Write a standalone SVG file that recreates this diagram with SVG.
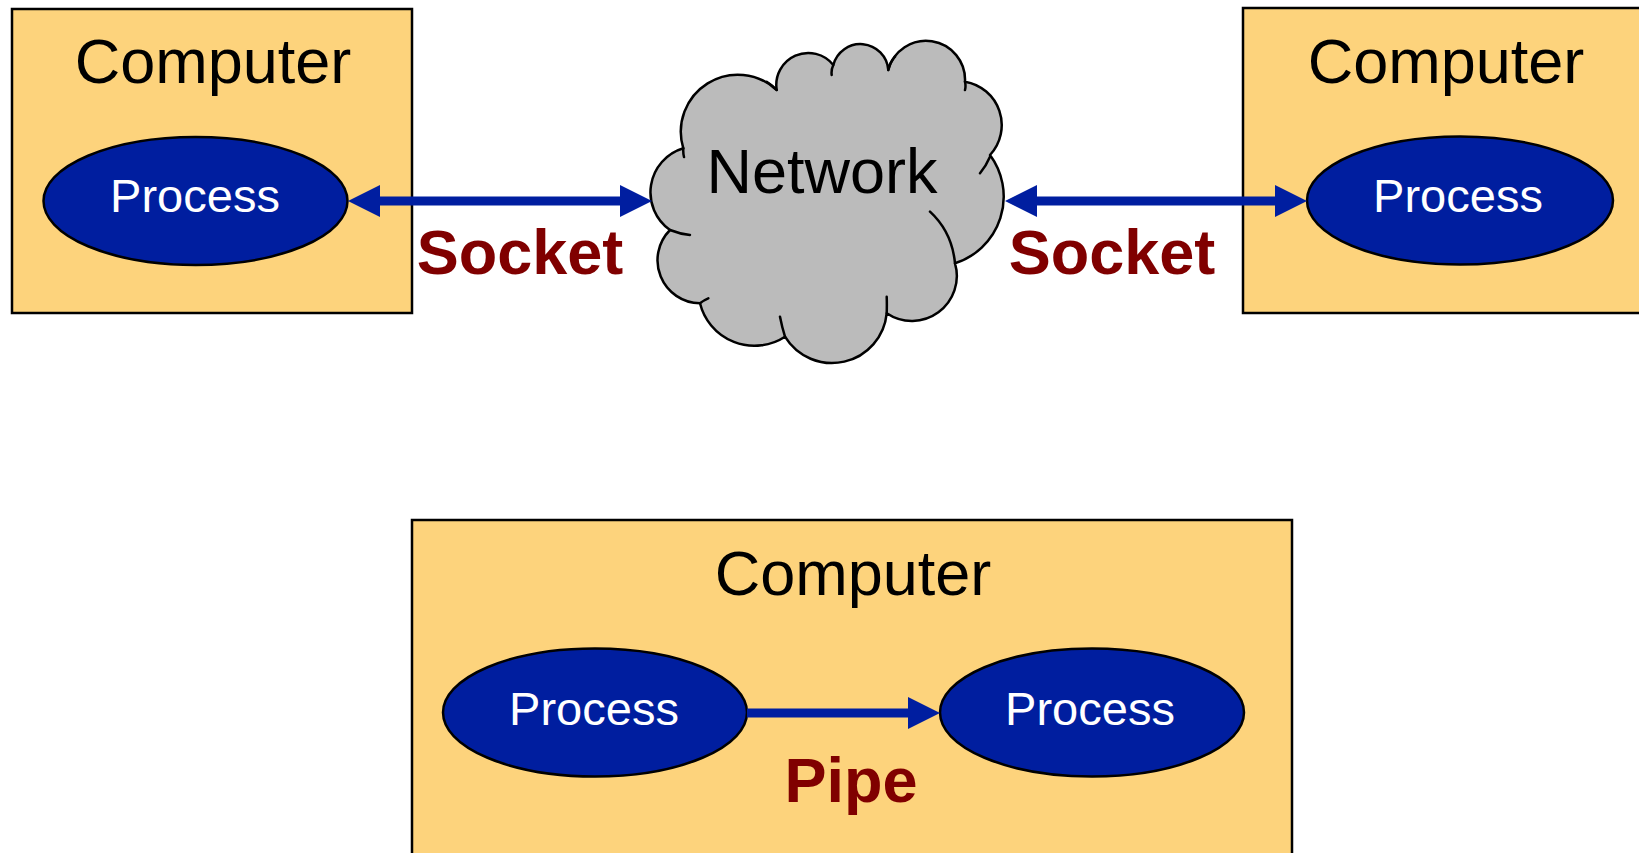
<svg xmlns="http://www.w3.org/2000/svg" width="1639" height="853" viewBox="0 0 1639 853">
<style>
.box{fill:#FDD37C;stroke:#000;stroke-width:2.5}
.proc{fill:#001E9F;stroke:#000;stroke-width:2.5}
.title{font-family:"Liberation Sans",Arial,sans-serif;font-size:63px;fill:#000;text-anchor:middle}
.ptext{font-family:"Liberation Sans",Arial,sans-serif;font-size:47px;fill:#fff;text-anchor:middle}
.lbl{font-family:"Liberation Sans",Arial,sans-serif;font-size:63px;font-weight:bold;fill:#800000;text-anchor:middle}
.conn{stroke:#001EA0;stroke-width:9;fill:none}
.cloud{fill:#BBBBBB;stroke:#000;stroke-width:2.5;stroke-linejoin:round}
.tail{fill:none;stroke:#000;stroke-width:2.5;stroke-linecap:round}
</style>
<defs>
<marker id="ah" markerUnits="userSpaceOnUse" markerWidth="33" markerHeight="33" refX="0" refY="16" orient="auto-start-reverse" viewBox="0 0 33 33">
<path d="M0,0 L32,16 L0,32 z" fill="#001EA0"/>
</marker>
</defs>
<rect width="1639" height="853" fill="#fff"/>

<g id="computer-left">
<rect class="box" x="12" y="9" width="400" height="304"/>
<text class="title" x="213" y="83">Computer</text>
<g id="process-left">
<ellipse class="proc" cx="195.5" cy="201" rx="152" ry="64"/>
<text class="ptext" x="195" y="212">Process</text>
</g>
</g>

<g id="computer-right">
<rect class="box" x="1243" y="8" width="410" height="305"/>
<text class="title" x="1446" y="83">Computer</text>
<g id="process-right">
<ellipse class="proc" cx="1460" cy="200.5" rx="153" ry="64"/>
<text class="ptext" x="1458" y="212">Process</text>
</g>
</g>

<g id="network">
<path class="cloud" d="M683.3,148.3 A46,46 0 0 0 670,230 A43,43 0 0 0 700,303.3 A56,56 0 0 0 785,336.7 A55,55 0 0 0 886.7,313.3 A45,45 0 0 0 955,263.3 A70,70 0 0 0 990,155 A44,44 0 0 0 965,81.7 A39,39 0 0 0 888.3,70 A28,28 0 0 0 833.3,65 A32,32 0 0 0 776.7,90 A57,57 0 0 0 683.3,148.3 Z"/>
<path class="tail" d="M683.3,148.3 Q683,153 684,157 M670,230 Q680,234 690,235 M700,303.3 Q704,300 708.3,298.3 M780,316.7 Q782,327 785,336.7 M886.7,296.7 Q887,305 886.7,313.3 M930,211.7 Q952,232 955,263.3 M980,173.3 Q986,166 990,156.7 M965,81.7 Q966,86 965,90 M888.3,70 Q890,62 895,56.7 M833.3,65 Q831,70 831.7,75 M776.7,90 Q772,85 766.7,81.7"/>
<text class="title" x="822" y="193">Network</text>
</g>

<g id="computer-bottom">
<rect class="box" x="412" y="520" width="880" height="345"/>
<text class="title" x="853" y="595">Computer</text>
<g id="process-bottom-left">
<ellipse class="proc" cx="595" cy="712.5" rx="152" ry="64"/>
<text class="ptext" x="594" y="725">Process</text>
</g>
<g id="process-bottom-right">
<ellipse class="proc" cx="1092" cy="712.5" rx="152" ry="64"/>
<text class="ptext" x="1090" y="725">Process</text>
</g>
</g>

<g id="connectors">
<line class="conn" x1="380" y1="201" x2="620" y2="201" marker-start="url(#ah)" marker-end="url(#ah)"/>
<line class="conn" x1="1037" y1="201" x2="1275" y2="201" marker-start="url(#ah)" marker-end="url(#ah)"/>
<line class="conn" x1="747" y1="713" x2="908" y2="713" marker-end="url(#ah)"/>
<text class="lbl" x="520" y="274">Socket</text>
<text class="lbl" x="1112" y="274">Socket</text>
<text class="lbl" x="851" y="802">Pipe</text>
</g>
</svg>
